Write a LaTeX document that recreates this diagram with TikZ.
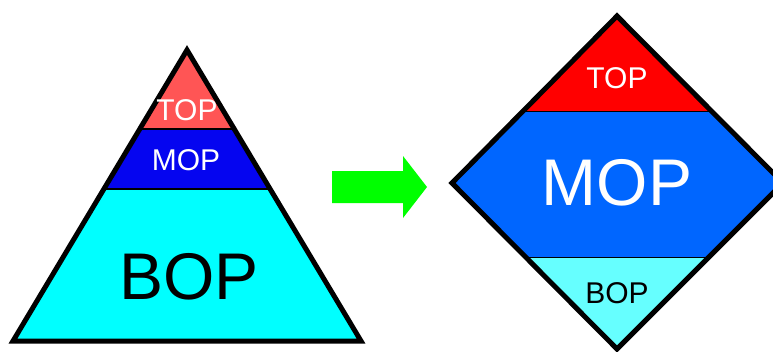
\documentclass[tikz,border=0pt]{standalone}
\usepackage{fontspec}
\setmainfont{Liberation Sans}
\definecolor{topA}{HTML}{FF5555}
\definecolor{mopA}{HTML}{0505F0}
\definecolor{bopA}{HTML}{00FFFF}
\definecolor{topB}{HTML}{FF0000}
\definecolor{mopB}{HTML}{0066FF}
\definecolor{bopB}{HTML}{66FFFF}
\definecolor{arr}{HTML}{00FF00}
\begin{document}
\begin{tikzpicture}[x=1pt,y=-1pt,
  outline/.style={draw=black,line width=5pt,line join=miter},
  sep/.style={draw=black,line width=#1},
  small/.style={inner sep=0pt,font=\fontsize{30}{30}\selectfont},
  big/.style={inner sep=0pt,font=\fontsize{66}{66}\selectfont}]
\useasboundingbox (0,0) rectangle (773,351);
\clip (0,0) rectangle (773,351);
% pyramid
\begin{scope}
  \clip (187,50) -- (361,341) -- (13,341) -- cycle;
  \fill[topA] (0,0) rectangle (400,129);
  \fill[mopA] (0,129) rectangle (400,189);
  \fill[bopA] (0,189) rectangle (400,351);
  \draw[sep=2pt] (0,129) -- (400,129);
  \draw[sep=2.5pt] (0,189) -- (400,189);
\end{scope}
\draw[outline] (187,50) -- (361,341) -- (13,341) -- cycle;
\node[small,text=white] (ptop) at (187,110) {TOP};
\node[small,text=white] (pmop) at (186,160) {MOP};
\node[big,text=black] (pbop) at (189,277) {BOP};
% arrow
\fill[arr] (332,171) -- (403,171) -- (403,156) -- (427,187) -- (403,218) -- (403,203) -- (332,203) -- cycle;
% diamond
\begin{scope}
  \clip (617,16) -- (783,183) -- (617,349) -- (452,183) -- cycle;
  \fill[topB] (440,0) rectangle (800,111);
  \fill[mopB] (440,111) rectangle (800,257);
  \fill[bopB] (440,257) rectangle (800,351);
  \draw[sep=1pt] (440,111) -- (800,111);
  \draw[sep=1pt] (440,257) -- (800,257);
\end{scope}
\draw[outline] (617,16) -- (783,183) -- (617,349) -- (452,183) -- cycle;
\node[small,text=white] (dtop) at (617,78) {TOP};
\node[big,text=white] (dmop) at (617,183) {MOP};
\node[small,text=black] (dbop) at (617,293) {BOP};
\end{tikzpicture}
\end{document}
